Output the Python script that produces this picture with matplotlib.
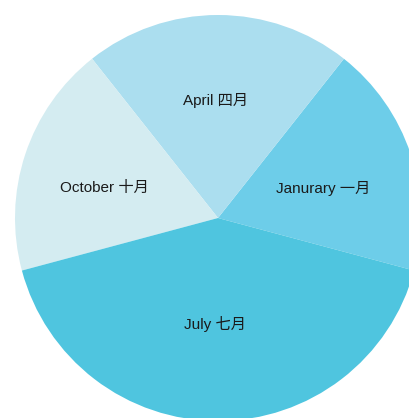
import matplotlib
matplotlib.use("Agg")
import matplotlib.pyplot as plt
import numpy as np

categories = ["Janurary 一月", "April 四月", "October 十月", "July 七月"]
values = [20, 23, 20, 45]
colors = ["#6dcde9", "#abdeef", "#d4ecf1", "#4fc5df"]

# label placement tweaks (fraction of radius, angle nudge in degrees)
label_r = [0.54, 0.58, 0.58, 0.52]
label_da = [-2.5, 1.0, 3.6, -1.4]

plt.rcParams['font.family'] = ['Liberation Sans', 'Noto Sans CJK SC', 'DejaVu Sans']

fig = plt.figure(figsize=(4.09, 4.18), dpi=100)
cx, cy, r = 218, 218, 203
W, H = 409, 418
ax = fig.add_axes([(cx - r) / W, (H - cy - r) / H, 2 * r / W, 2 * r / H])

wedges, texts = ax.pie(values, labels=categories, colors=colors, startangle=-15,
                       counterclock=True, radius=1, labeldistance=0.56,
                       wedgeprops=dict(linewidth=0),
                       textprops=dict(fontsize=11, color='#1a1a1a'))
ax.set_xlim(-1, 1)
ax.set_ylim(-1, 1)
ax.set_aspect('auto')
ax.axis('off')
for w, t, lr, da in zip(wedges, texts, label_r, label_da):
    ang = np.deg2rad((w.theta1 + w.theta2) / 2 + da)
    t.set_position((lr * np.cos(ang), lr * np.sin(ang)))
    t.set_ha('center')
    t.set_va('center')
    w.set_clip_on(False)

fig.savefig("out.png", dpi=100)
